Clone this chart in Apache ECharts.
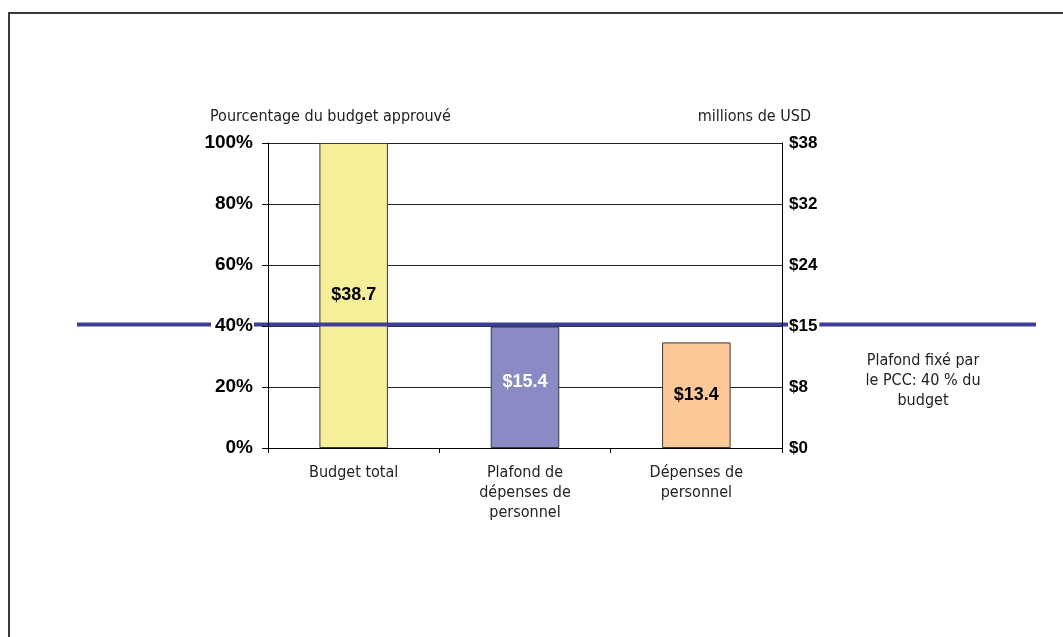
<!DOCTYPE html>
<html>
<head>
<meta charset="utf-8">
<script src="https://cdn.jsdelivr.net/npm/echarts@6/dist/echarts.min.js"></script>
<style>
  html, body { margin: 0; padding: 0; background: #fff; }
  #chart { width: 1063px; height: 637px; position: relative; }
  #frame { position: absolute; left: 8px; top: 12px; right: -10px; bottom: -10px;
           border-left: 2px solid #3a3a3a; border-top: 2px solid #3a3a3a; pointer-events: none; }
</style>
</head>
<body>
<div id="chart"></div>
<div id="frame"></div>
<script>
// Budget categories and their amounts (millions of USD)
const categories = ['Budget total', 'Plafond de\ndépenses de\npersonnel', 'Dépenses de\npersonnel'];
const amounts = [38.7, 15.4, 13.4];
const barLabels = ['$38.7', '$15.4', '$13.4'];

// Axis ticks: percentage of approved budget (left) and dollar amounts (right)
const percentTicks = ['0%', '20%', '40%', '60%', '80%', '100%'];
const dollarTicks = ['$0', '$8', '$15', '$24', '$32', '$38'];

// Ceiling set by the PCC, as a share of the budget
const capPercent = 40;
const capNote = 'Plafond fixé par\nle PCC: 40 % du\nbudget';

const barColors = ['#F5EF9A', '#8A8AC4', '#FCC897'];
const barLabelColors = ['#000', '#fff', '#000'];

const narrow = "'Liberation Sans Narrow', 'DejaVu Sans Condensed', 'Liberation Sans', sans-serif";
const bold = "'Liberation Sans', Arial, sans-serif";

const chart = echarts.init(document.getElementById('chart'), null, { renderer: 'canvas' });

const totalBudget = amounts[0];

chart.setOption({
  animation: false,
  backgroundColor: 'transparent',
  grid: { left: 268, right: 281, top: 143, bottom: 189, containLabel: false },
  title: [
    { text: 'Pourcentage du budget approuvé', left: 205, top: 104,
      textStyle: { fontFamily: narrow, fontSize: 16, fontWeight: 'normal', color: '#222' } },
    { text: 'millions de USD', right: 247, top: 104,
      textStyle: { fontFamily: narrow, fontSize: 16, fontWeight: 'normal', color: '#222' } }
  ],
  xAxis: {
    type: 'category',
    data: categories,
    axisLine: { lineStyle: { color: '#000', width: 1 } },
    axisTick: { show: true, length: 5, lineStyle: { color: '#000' } },
    axisLabel: { fontFamily: narrow, fontSize: 16, color: '#222', lineHeight: 20, margin: 15 }
  },
  yAxis: [
    {
      type: 'value', min: 0, max: 100, interval: 20, position: 'left', z: 5,
      axisLine: { show: true, lineStyle: { color: '#000' } },
      axisTick: { show: true, length: 6, lineStyle: { color: '#000' } },
      splitLine: { show: false },
      axisLabel: {
        formatter: (v, i) => percentTicks[i],
        fontFamily: bold, fontWeight: 'bold', fontSize: 19, color: '#000',
        margin: 14, backgroundColor: '#fff', padding: [2, 1, 2, 4]
      }
    },
    {
      type: 'value', min: 0, max: totalBudget, interval: totalBudget / 5, position: 'right', z: 5,
      axisLine: { show: true, lineStyle: { color: '#000' } },
      axisTick: { show: false },
      splitLine: { show: false },
      axisLabel: {
        formatter: (v, i) => dollarTicks[i],
        fontFamily: bold, fontWeight: 'bold', fontSize: 17, color: '#000',
        margin: 6, backgroundColor: '#fff', padding: [2, 2, 2, 1]
      }
    },
    {
      // gridlines drawn beneath the bars
      type: 'value', min: 0, max: 100, interval: 20, position: 'left', z: 0,
      axisLine: { show: false }, axisTick: { show: false }, axisLabel: { show: false },
      splitLine: { show: true, lineStyle: { color: '#222', width: 1 } }
    }
  ],
  series: [{
    type: 'bar',
    yAxisIndex: 1,
    barWidth: '40%',
    z: 2,
    data: amounts.map((v, i) => ({
      value: v,
      itemStyle: { color: barColors[i], borderColor: '#3a3a3a', borderWidth: 1 },
      label: { color: barLabelColors[i], offset: i === 1 ? [0, -5] : [0, 0] }
    })),
    label: {
      show: true, position: 'inside',
      formatter: p => barLabels[p.dataIndex],
      fontFamily: bold, fontWeight: 'bold', fontSize: 18
    }
  }]
});

// Ceiling line at the PCC limit, positioned through the percentage axis
const capY = chart.convertToPixel({ yAxisIndex: 0 }, capPercent) - 1.5;
chart.setOption({
  graphic: [
    {
      type: 'line', z: 3,
      shape: { x1: 77, y1: capY, x2: 1036, y2: capY },
      style: { stroke: '#3E3E96', lineWidth: 4 }
    },
    {
      type: 'text', z: 3, left: 862, top: 351,
      style: { text: capNote, fontFamily: narrow, fontSize: 16, fill: '#222',
               textAlign: 'center', lineHeight: 20, width: 122, align: 'center' }
    }
  ]
});
</script>
</body>
</html>
